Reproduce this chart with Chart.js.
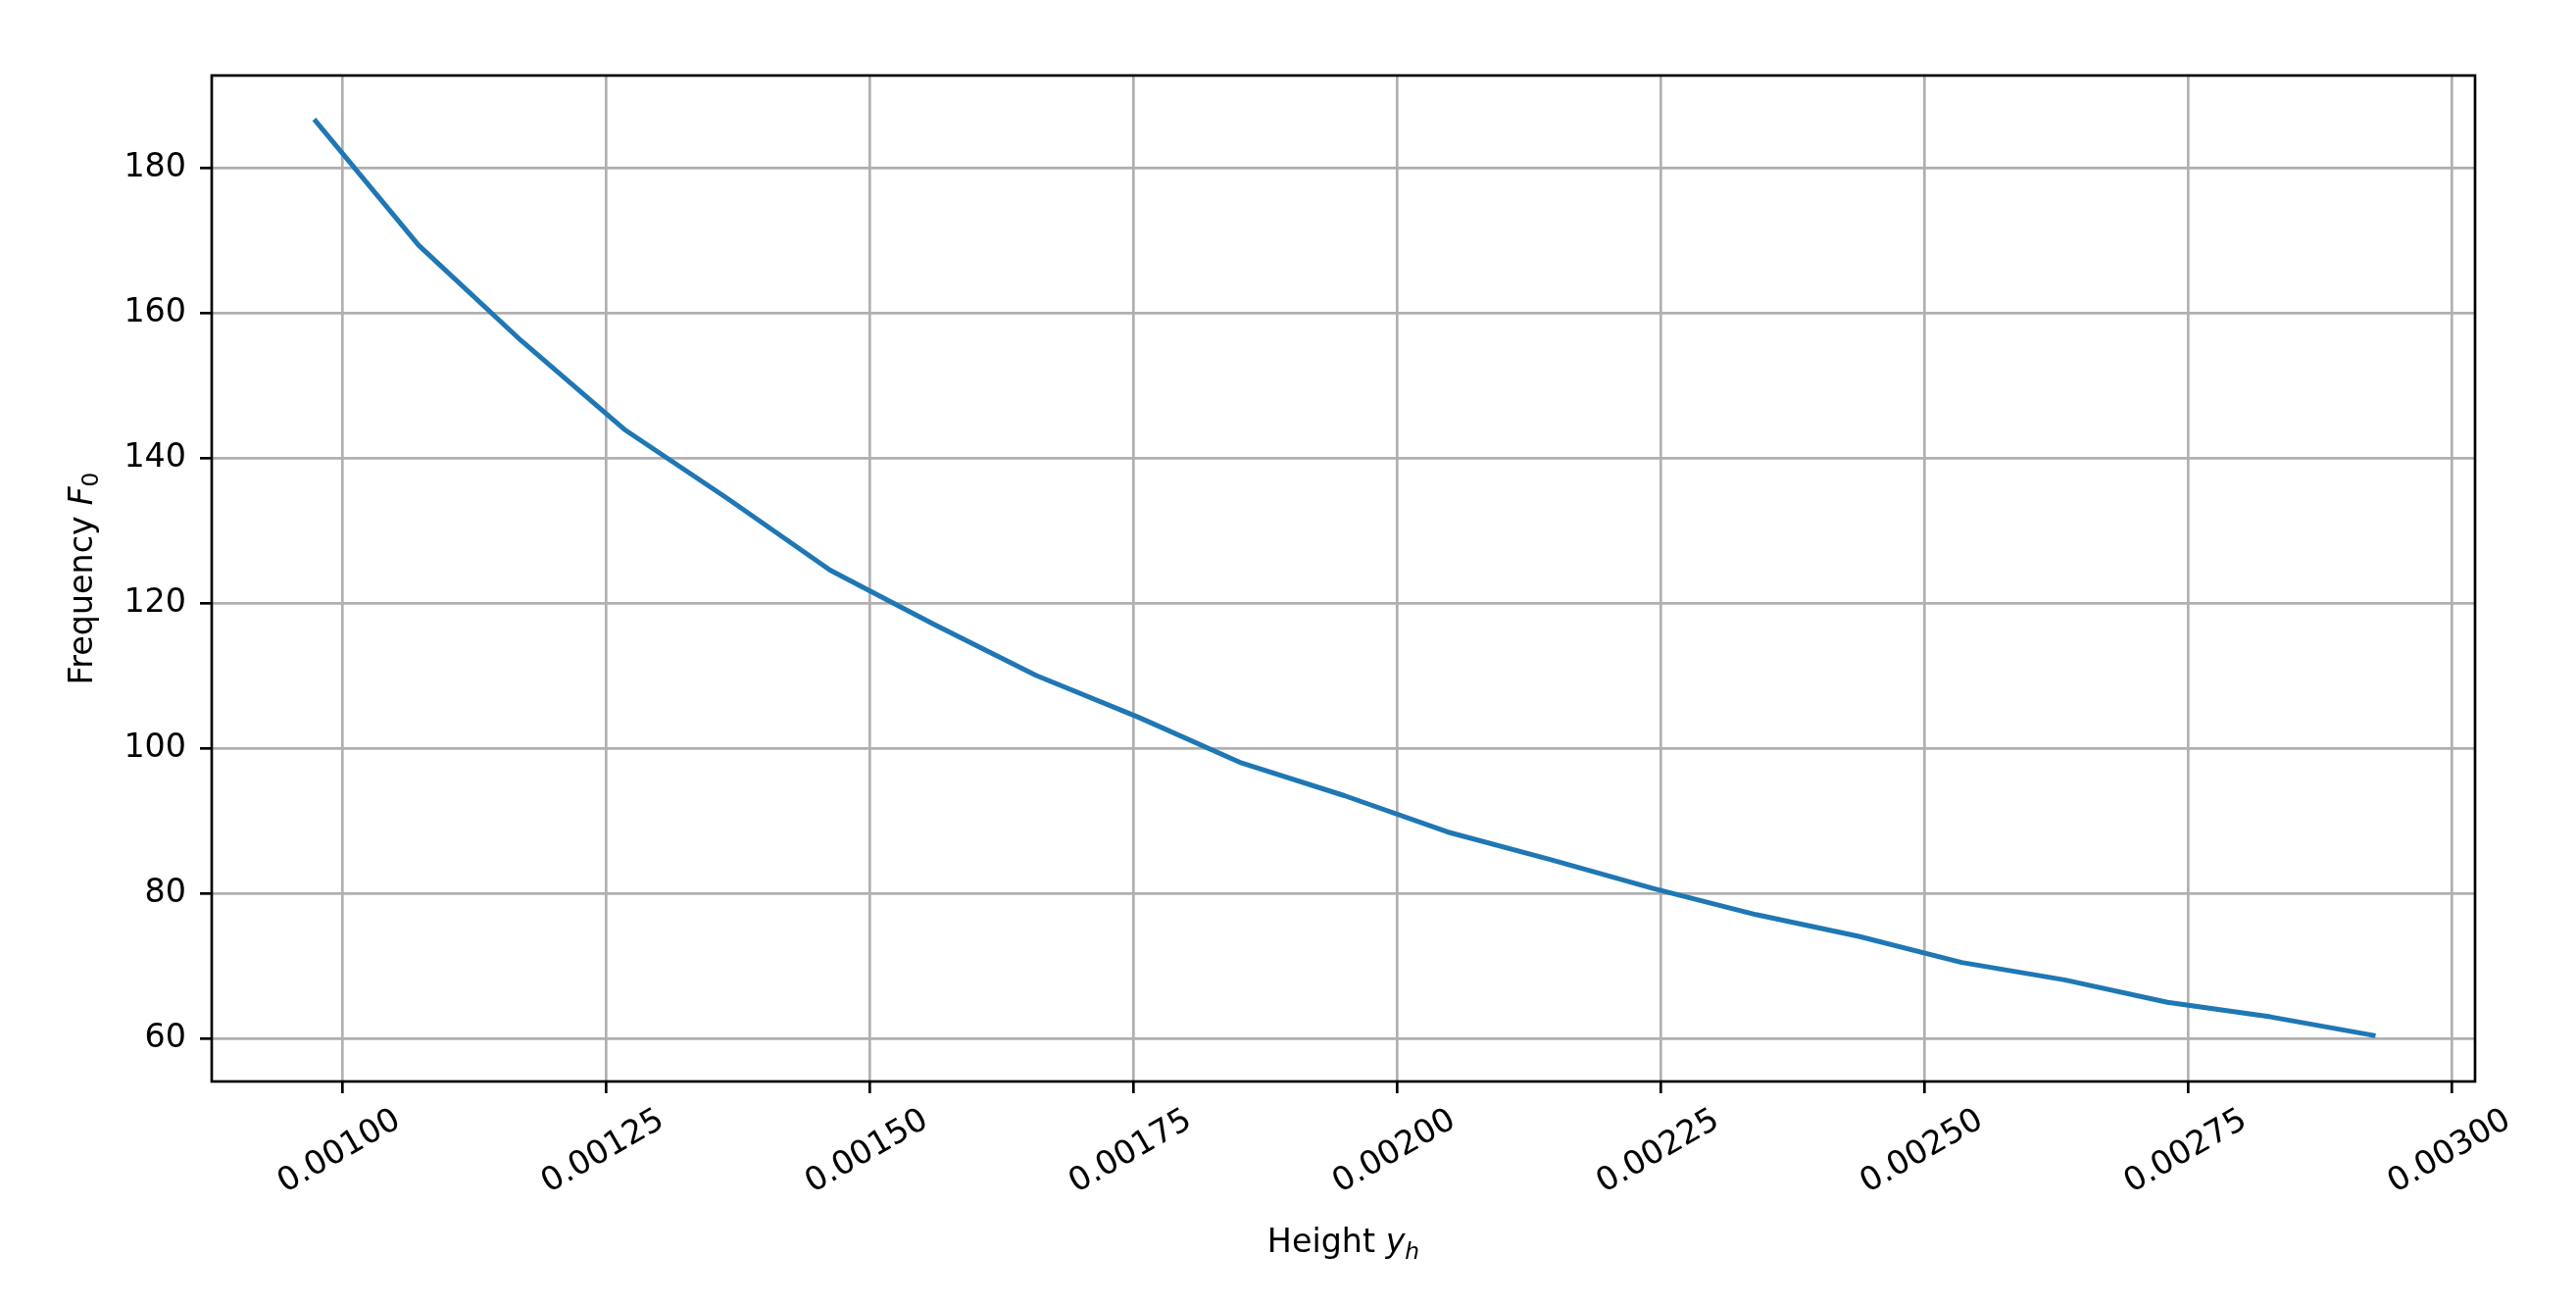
<!DOCTYPE html>
<html>
<head>
<meta charset="utf-8">
<script src="https://cdn.jsdelivr.net/npm/chart.js@4.4.1/dist/chart.umd.min.js"></script>
<style>
html,body{margin:0;padding:0;background:#fff;overflow:hidden}
canvas{display:block}
</style>
</head>
<body>
<canvas id="c" width="2628" height="1332"></canvas>
<script>
// ---- data ----
const heights = [0.000975, 0.0010725, 0.00117, 0.0012675, 0.001365, 0.0014625, 0.00156,
  0.0016575, 0.001755, 0.0018525, 0.00195, 0.0020475, 0.002145, 0.0022425, 0.00234,
  0.0024375, 0.002535, 0.0026325, 0.00273, 0.0028275, 0.002925];
const frequencies = [186.5, 169.4, 156.2, 144.0, 134.5, 124.6, 117.2, 110.1, 104.3, 98.0,
  93.5, 88.5, 84.7, 80.7, 77.1, 74.1, 70.5, 68.1, 65.0, 63.0, 60.45];
const xTicks = [0.001, 0.00125, 0.0015, 0.00175, 0.002, 0.00225, 0.0025, 0.00275, 0.003];
const yTicks = [60, 80, 100, 120, 140, 160, 180];
const xTitleParts = ['Height ', 'y', 'h'];
const yTitleParts = ['Frequency ', 'F', '0'];

const FONT = '"DejaVu Sans", "Liberation Sans", sans-serif';
const FS = 33.33;

const points = heights.map((h, i) => ({ x: h, y: frequencies[i] }));

function drawMixed(ctx, parts, cx, baseline) {
  let total = 0;
  parts.forEach(p => { ctx.font = p.font; p.w = ctx.measureText(p.text).width; total += p.w; });
  let x = cx - total / 2;
  ctx.textAlign = 'left';
  ctx.textBaseline = 'alphabetic';
  ctx.fillStyle = '#000';
  parts.forEach(p => { ctx.font = p.font; ctx.fillText(p.text, x, baseline + p.dy); x += p.w; });
}

const framePlugin = {
  id: 'frame',
  afterDatasetsDraw(chart) {
    const { ctx, chartArea: a } = chart;
    ctx.save();
    ctx.strokeStyle = '#000';
    ctx.lineWidth = 2.67;
    ctx.strokeRect(a.left, a.top, a.right - a.left, a.bottom - a.top);
    ctx.restore();
  },
  afterDraw(chart) {
    const { ctx, chartArea: a } = chart;
    ctx.save();
    const reg = FS + 'px ' + FONT;
    const ita = 'italic ' + FS + 'px ' + FONT;
    const sub = (FS * 0.7) + 'px ' + FONT;
    const subIta = 'italic ' + (FS * 0.7) + 'px ' + FONT;
    drawMixed(ctx, [
      { text: xTitleParts[0], font: reg, dy: 0 },
      { text: xTitleParts[1], font: ita, dy: 0 },
      { text: xTitleParts[2], font: subIta, dy: 7 }
    ], (a.left + a.right) / 2, 1277);
    ctx.translate(94, (a.top + a.bottom) / 2);
    ctx.rotate(-Math.PI / 2);
    drawMixed(ctx, [
      { text: yTitleParts[0], font: reg, dy: 0 },
      { text: yTitleParts[1], font: ita, dy: 0 },
      { text: yTitleParts[2], font: sub, dy: 6 }
    ], 0, 0);
    ctx.restore();
  }
};

Chart.defaults.font.family = FONT;
Chart.defaults.font.size = FS;
Chart.defaults.color = '#000';

new Chart(document.getElementById('c'), {
  type: 'line',
  data: {
    datasets: [{
      data: points,
      borderColor: '#1f77b4',
      borderWidth: 5,
      pointRadius: 0,
      tension: 0,
      fill: false,
      borderCapStyle: 'square',
      borderJoinStyle: 'round'
    }]
  },
  options: {
    responsive: false,
    animation: false,
    devicePixelRatio: 1,
    layout: { padding: { top: 77, right: 103, left: 0, bottom: 0 } },
    plugins: { legend: { display: false }, tooltip: { enabled: false } },
    scales: {
      x: {
        type: 'linear',
        min: 0.0008764,
        max: 0.0030216,
        afterBuildTicks: s => { s.ticks = xTicks.map(v => ({ value: v })); },
        afterFit: s => { s.height = 229; },
        grid: { color: '#b0b0b0', lineWidth: 2.67, tickColor: '#000', tickWidth: 2.67, tickLength: 12 },
        border: { display: false },
        ticks: {
          autoSkip: false,
          minRotation: 30,
          maxRotation: 30,
          padding: 8,
          labelOffset: 57,
          font: { size: FS },
          color: '#000',
          callback: v => Number(v).toFixed(5)
        },
        title: { display: false }
      },
      y: {
        type: 'linear',
        min: 54.09,
        max: 192.8,
        afterBuildTicks: s => { s.ticks = yTicks.map(v => ({ value: v })); },
        afterFit: s => { s.width = 216; },
        grid: { color: '#b0b0b0', lineWidth: 2.67, tickColor: '#000', tickWidth: 2.67, tickLength: 12 },
        border: { display: false },
        ticks: {
          padding: 14,
          font: { size: FS },
          color: '#000',
          callback: v => String(v)
        },
        title: { display: false }
      }
    }
  },
  plugins: [framePlugin]
});
</script>
</body>
</html>
